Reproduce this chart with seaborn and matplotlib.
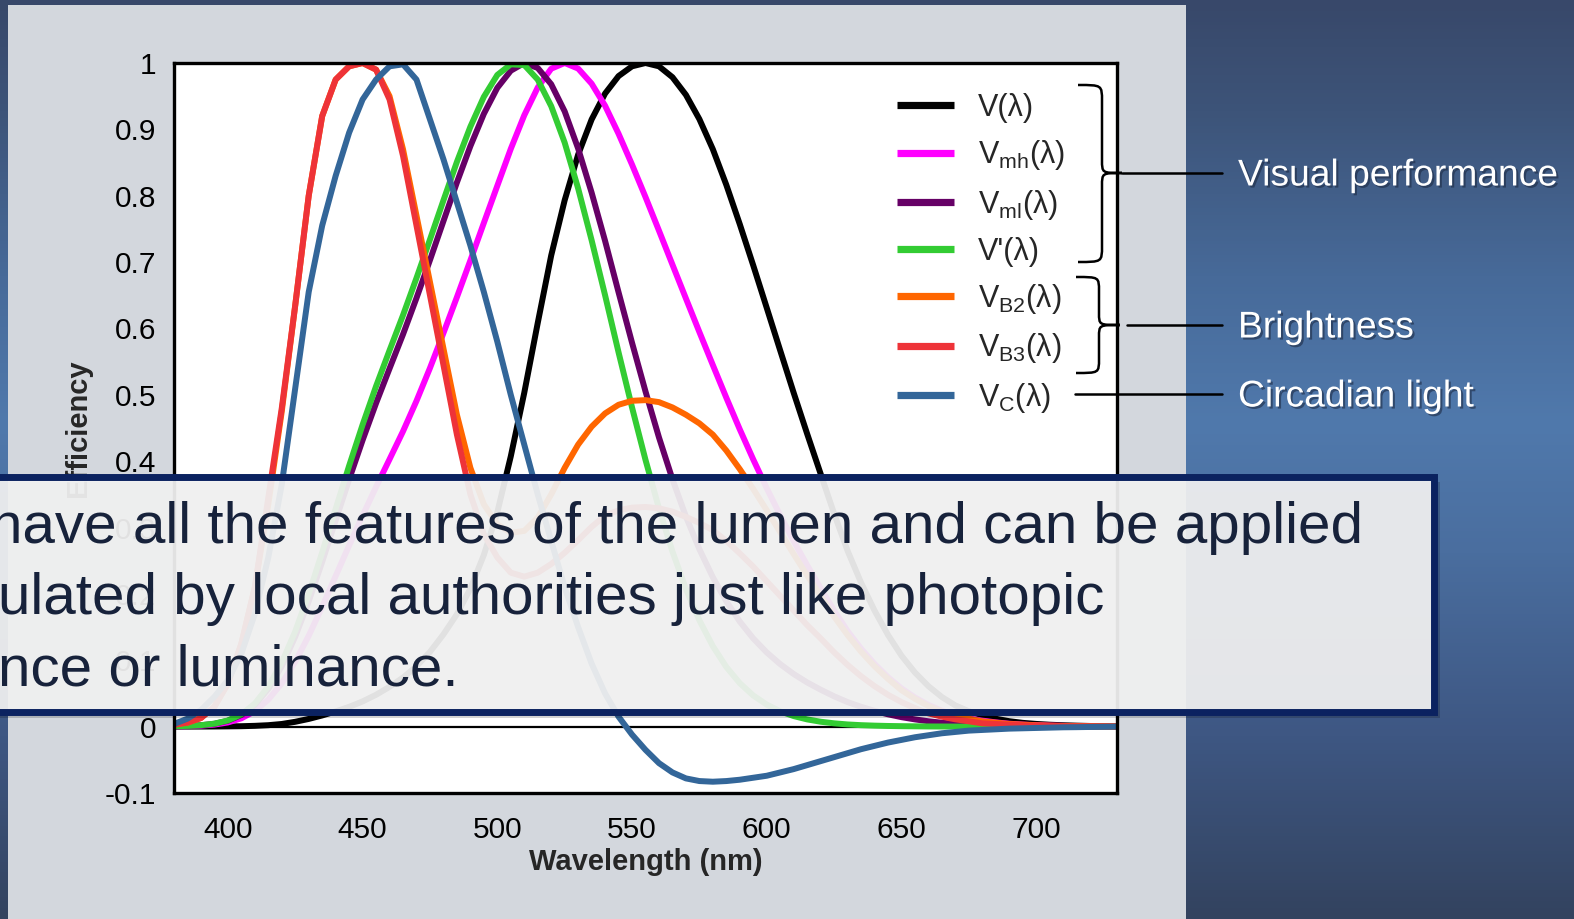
import numpy as np
import pandas as pd
import matplotlib
matplotlib.use("Agg")
import matplotlib.pyplot as plt
import matplotlib.patches as mpatches
import matplotlib.patheffects as pe
from matplotlib.path import Path
from matplotlib.colors import LinearSegmentedColormap
import seaborn as sns

# ---------------------------------------------------------------------------
# Spectral efficiency functions, sampled every 5 nm from 380 to 730 nm
# ---------------------------------------------------------------------------
wavelengths = list(range(380, 735, 5))

v_photopic = [
    0.00004, 0.00006, 0.00012, 0.00022, 0.0004, 0.00064, 0.00121, 0.00218, 0.004, 0.0073,
    0.0116, 0.01684, 0.023, 0.0298, 0.038, 0.048, 0.06, 0.0739, 0.091, 0.1126,
    0.139, 0.1693, 0.208, 0.2586, 0.323, 0.4073, 0.503, 0.6082, 0.71, 0.7932,
    0.862, 0.9149, 0.954, 0.9803, 0.995, 1.0, 0.995, 0.9786, 0.952, 0.9154,
    0.87, 0.8163, 0.757, 0.6949, 0.631, 0.5668, 0.503, 0.4412, 0.381, 0.321,
    0.265, 0.217, 0.175, 0.1382, 0.107, 0.0816, 0.061, 0.0446, 0.032, 0.0232,
    0.017, 0.0119, 0.0082, 0.0057, 0.0041, 0.0029, 0.0021, 0.0015, 0.001, 0.0007,
    0.0005,
]

v_mesopic_high = [
    0.0004, 0.0008, 0.0015, 0.0031, 0.0063, 0.0125, 0.0234, 0.0407, 0.0653, 0.0978,
    0.1369, 0.1807, 0.2269, 0.2730, 0.3179, 0.3612, 0.4029, 0.4450, 0.4908, 0.5403,
    0.5930, 0.6471, 0.7025, 0.7590, 0.8150, 0.8706, 0.9212, 0.9631, 0.9914, 1.0,
    0.9916, 0.9689, 0.9356, 0.8934, 0.8469, 0.7980, 0.7474, 0.6962, 0.6452, 0.5946,
    0.5448, 0.4956, 0.4479, 0.4025, 0.3593, 0.3184, 0.2796, 0.2432, 0.2087, 0.1750,
    0.1440, 0.1176, 0.0946, 0.0746, 0.0577, 0.0440, 0.0328, 0.0240, 0.0172, 0.0125,
    0.0091, 0.0064, 0.0044, 0.0031, 0.0022, 0.0016, 0.0011, 0.0008, 0.0006, 0.0004,
    0.0003,
]

v_mesopic_low = [
    0.0006, 0.0010, 0.0021, 0.0043, 0.0088, 0.0175, 0.0328, 0.0569, 0.0911, 0.1357,
    0.1889, 0.2484, 0.3108, 0.3726, 0.4317, 0.4874, 0.5396, 0.5911, 0.6458, 0.7030,
    0.7617, 0.8200, 0.8747, 0.9234, 0.9626, 0.9884, 1.0, 0.9925, 0.9680, 0.9271,
    0.8711, 0.8047, 0.7319, 0.6545, 0.5785, 0.5051, 0.4358, 0.3728, 0.3166, 0.2674,
    0.2250, 0.1888, 0.1583, 0.1329, 0.1118, 0.0942, 0.0793, 0.0666, 0.0557, 0.0457,
    0.0370, 0.0299, 0.0238, 0.0186, 0.0143, 0.0109, 0.0081, 0.0059, 0.0042, 0.0031,
    0.0022, 0.0016, 0.0011, 0.0007, 0.0005, 0.0004, 0.0003, 0.0002, 0.0001, 0.0001,
    0.0001,
]

v_scotopic = [
    0.0006, 0.0011, 0.0022, 0.0045, 0.0093, 0.0185, 0.0348, 0.0604, 0.0966, 0.1436,
    0.1998, 0.2625, 0.3281, 0.3931, 0.455, 0.513, 0.567, 0.62, 0.676, 0.734,
    0.793, 0.851, 0.904, 0.949, 0.982, 0.998, 0.997, 0.975, 0.935, 0.88,
    0.811, 0.733, 0.65, 0.564, 0.481, 0.402, 0.3288, 0.2639, 0.2076, 0.1602,
    0.1212, 0.0899, 0.0655, 0.0469, 0.0332, 0.0231, 0.0159, 0.0109, 0.0074, 0.005,
    0.0033, 0.0022, 0.0015, 0.001, 0.0007, 0.0005, 0.0003, 0.0002, 0.0001, 0.0001,
    0.0001, 0.0001, 0.0, 0.0, 0.0, 0.0, 0.0, 0.0, 0.0, 0.0,
    0.0,
]

v_brightness_b2 = [
    0.003, 0.006, 0.013, 0.03, 0.065, 0.125, 0.21, 0.335, 0.475, 0.635,
    0.80, 0.92, 0.975, 0.995, 1.0, 0.99, 0.95, 0.87, 0.77, 0.67,
    0.57, 0.47, 0.39, 0.335, 0.305, 0.292, 0.295, 0.315, 0.35, 0.39,
    0.425, 0.452, 0.472, 0.485, 0.491, 0.492, 0.489, 0.481, 0.47, 0.457,
    0.44, 0.416, 0.388, 0.358, 0.326, 0.293, 0.26, 0.228, 0.197, 0.166,
    0.138, 0.113, 0.091, 0.072, 0.055, 0.042, 0.031, 0.023, 0.017, 0.012,
    0.008, 0.006, 0.004, 0.003, 0.002, 0.0015, 0.001, 0.0008, 0.0005, 0.0004,
    0.0003,
]

v_brightness_b3 = [
    0.003, 0.006, 0.013, 0.03, 0.065, 0.125, 0.21, 0.345, 0.48, 0.635,
    0.80, 0.92, 0.975, 0.995, 1.0, 0.99, 0.945, 0.86, 0.755, 0.65,
    0.545, 0.44, 0.35, 0.29, 0.255, 0.232, 0.226, 0.232, 0.245, 0.262,
    0.281, 0.301, 0.318, 0.326, 0.33, 0.331, 0.329, 0.324, 0.316, 0.307,
    0.296, 0.28, 0.261, 0.241, 0.219, 0.197, 0.175, 0.153, 0.133, 0.112,
    0.093, 0.076, 0.061, 0.048, 0.037, 0.028, 0.02, 0.015, 0.011, 0.008,
    0.005, 0.004, 0.003, 0.002, 0.0013, 0.001, 0.0007, 0.0005, 0.0003, 0.0002,
    0.0001,
]

v_circadian = [
    0.004, 0.012, 0.025, 0.045, 0.07, 0.11, 0.17, 0.255, 0.365, 0.51,
    0.655, 0.755, 0.83, 0.895, 0.945, 0.975, 0.995, 0.998, 0.975, 0.915,
    0.855, 0.79, 0.725, 0.655, 0.58, 0.5, 0.425, 0.35, 0.28, 0.21,
    0.15, 0.095, 0.05, 0.015, -0.012, -0.035, -0.055, -0.069, -0.078, -0.082,
    -0.083, -0.082, -0.08, -0.077, -0.074, -0.069, -0.064, -0.058, -0.052, -0.046,
    -0.04, -0.034, -0.029, -0.024, -0.02, -0.016, -0.013, -0.01, -0.008, -0.006,
    -0.005, -0.004, -0.003, -0.0025, -0.002, -0.0015, -0.001, -0.0008, -0.0005, -0.0003,
    0.0,
]

series_labels = [
    "V(λ)",
    r"V$_{mh}$(λ)",
    r"V$_{ml}$(λ)",
    "V'(λ)",
    r"V$_{B2}$(λ)",
    r"V$_{B3}$(λ)",
    r"V$_{C}$(λ)",
]
series_values = [
    v_photopic, v_mesopic_high, v_mesopic_low, v_scotopic,
    v_brightness_b2, v_brightness_b3, v_circadian,
]
series_colors = ["#000000", "#ff00ff", "#660066", "#33cc33",
                 "#ff6600", "#ee3338", "#336699"]

x_ticks = [400, 450, 500, 550, 600, 650, 700]
y_ticks = [-0.1, 0.0, 0.1, 0.2, 0.3, 0.4, 0.5, 0.6, 0.7, 0.8, 0.9, 1.0]
y_tick_labels = ["-0.1", "0", "0.1", "0.2", "0.3", "0.4", "0.5",
                 "0.6", "0.7", "0.8", "0.9", "1"]

group_labels = ["Visual performance", "Brightness", "Circadian light"]
note_lines = [
    "have all the features of the lumen and can be applied",
    "ulated by local authorities just like photopic",
    "nce or luminance.",
]

# ---------------------------------------------------------------------------
# Style
# ---------------------------------------------------------------------------
sns.set_style("white")
plt.rcParams["font.family"] = ["Liberation Sans", "DejaVu Sans"]
plt.rcParams["mathtext.fontset"] = "custom"
plt.rcParams["mathtext.rm"] = "Liberation Sans"
plt.rcParams["mathtext.it"] = "Liberation Sans:italic"
plt.rcParams["mathtext.bf"] = "Liberation Sans:bold"
plt.rcParams["mathtext.default"] = "regular"
plt.rcParams["axes.unicode_minus"] = False

W, H = 1574, 919
fig = plt.figure(figsize=(W / 100, H / 100), dpi=100)

# Slide background: vertical blue gradient with a light grey panel
bg = fig.add_axes([0, 0, 1, 1], zorder=-5)
bg_cmap = LinearSegmentedColormap.from_list(
    "slide",
    [(0.0, "#38486a"), (0.12, "#3d5479"), (0.3, "#476a99"), (0.46, "#5079ac"),
     (0.6, "#4a6e9f"), (0.8, "#3e5783"), (1.0, "#33435f")],
)
bg.imshow(np.linspace(0, 1, 256)[:, None], aspect="auto", cmap=bg_cmap,
          extent=(0, W, H, 0))
bg.add_patch(mpatches.Rectangle((8, 5), 1178, 930, facecolor="#d3d7dd",
                                edgecolor="none"))
bg.set_xlim(0, W)
bg.set_ylim(H, 0)
bg.axis("off")

# ---------------------------------------------------------------------------
# Main chart
# ---------------------------------------------------------------------------
ax = fig.add_axes([174 / W, 1 - 793 / H, (1117 - 174) / W, (793 - 63) / H],
                  zorder=1)
ax.set_facecolor("white")

records = []
for label, vals in zip(series_labels, series_values):
    for wl, v in zip(wavelengths, vals):
        records.append({"Wavelength (nm)": wl, "Efficiency": v, "Curve": label})
df = pd.DataFrame(records)

ax.axhline(0, color="black", lw=1.6, zorder=1.5)
sns.lineplot(data=df, x="Wavelength (nm)", y="Efficiency", hue="Curve",
             hue_order=series_labels, palette=series_colors, linewidth=4.3,
             estimator=None, sort=False, ax=ax, legend=True, zorder=2,
             solid_joinstyle="round", solid_capstyle="round")

ax.set_xlim(380, 730)
ax.set_ylim(-0.1, 1.0)
ax.set_xticks(x_ticks)
ax.set_xticklabels([str(t) for t in x_ticks])
ax.set_yticks(y_ticks)
ax.set_yticklabels(y_tick_labels)
ax.tick_params(axis="both", direction="out", length=7, width=1.8,
               labelsize=21.5, colors="black")
ax.tick_params(axis="x", pad=9.5)
ax.tick_params(axis="y", pad=6)
for sp in ax.spines.values():
    sp.set_visible(True)
    sp.set_color("black")
    sp.set_linewidth(2.4)

ax.set_xlabel("Wavelength (nm)", fontsize=21, fontweight="bold", labelpad=3)
ax.set_ylabel("Efficiency", fontsize=21, fontweight="bold")
ax.yaxis.set_label_coords(-0.087, 0.5)

handles, labels = ax.get_legend_handles_labels()
if ax.get_legend() is not None:
    ax.get_legend().remove()
leg = ax.legend(handles, labels, loc="upper left",
                bbox_to_anchor=(897 / W, 1 - 93 / H),
                bbox_transform=fig.transFigure, frameon=False, fontsize=22,
                handlelength=1.85, handletextpad=0.8, labelspacing=0.5,
                borderpad=0, borderaxespad=0)
for line in leg.get_lines():
    line.set_linewidth(5.2)
    line.set_solid_capstyle("butt")

# ---------------------------------------------------------------------------
# Slide decorations in pixel coordinates: braces, group names, note box
# ---------------------------------------------------------------------------
deco = fig.add_axes([0, 0, 1, 1], zorder=5)
deco.set_xlim(0, W)
deco.set_ylim(H, 0)
deco.axis("off")
deco.patch.set_alpha(0)


def brace(x_end, x_mid, x_tip, y_top, y_tip, y_bot, r_end=16, r_tip=13):
    verts = [
        (x_end, y_top),
        (x_mid, y_top), (x_mid, y_top), (x_mid, y_top + r_end),
        (x_mid, y_tip - r_tip),
        (x_mid, y_tip), (x_mid, y_tip), (x_tip, y_tip),
        (x_mid, y_tip), (x_mid, y_tip), (x_mid, y_tip + r_tip),
        (x_mid, y_bot - r_end),
        (x_mid, y_bot), (x_mid, y_bot), (x_end, y_bot),
    ]
    codes = ([Path.MOVETO] + [Path.CURVE4] * 3 + [Path.LINETO]
             + [Path.CURVE4] * 6 + [Path.LINETO] + [Path.CURVE4] * 3)
    return mpatches.PathPatch(Path(verts, codes), facecolor="none",
                              edgecolor="black", lw=1.8, zorder=1)


deco.add_patch(brace(1078, 1102, 1122, 85, 173, 262))
deco.add_patch(brace(1076, 1099, 1120, 277, 325, 373, r_end=14, r_tip=12))
deco.plot([1122, 1222], [173, 173], color="black", lw=1.8, zorder=1)
deco.plot([1127, 1222], [325, 325], color="black", lw=1.8, zorder=1)
deco.plot([1075, 1222], [394, 394], color="black", lw=1.8, zorder=1)

shadow_fx = [pe.withSimplePatchShadow(offset=(1.5, -1.5),
                                      shadow_rgbFace="#1d2b44", alpha=0.6)]
for label, yc in zip(group_labels, [176, 328, 397]):
    deco.text(1238, yc, label, color="white", fontsize=26.8, ha="left",
              va="center", path_effects=shadow_fx, zorder=2)

# Note box overlapping the lower part of the chart
deco.add_patch(mpatches.Rectangle((-15, 482), 1455, 236, facecolor="black",
                                  alpha=0.18, edgecolor="none", zorder=3))
deco.add_patch(mpatches.Rectangle((-20, 477), 1454, 235,
                                  facecolor=(0.953, 0.953, 0.953, 0.93),
                                  edgecolor="#0b2260", lw=5, zorder=4))
for line_text, x0, yb in zip(note_lines, [-10, -1.5, -2], [543, 614, 685]):
    deco.text(x0, yb, line_text, fontsize=42.0, color="#17223b",
              ha="left", va="baseline", zorder=5)

fig.savefig("out.png", dpi=100)
